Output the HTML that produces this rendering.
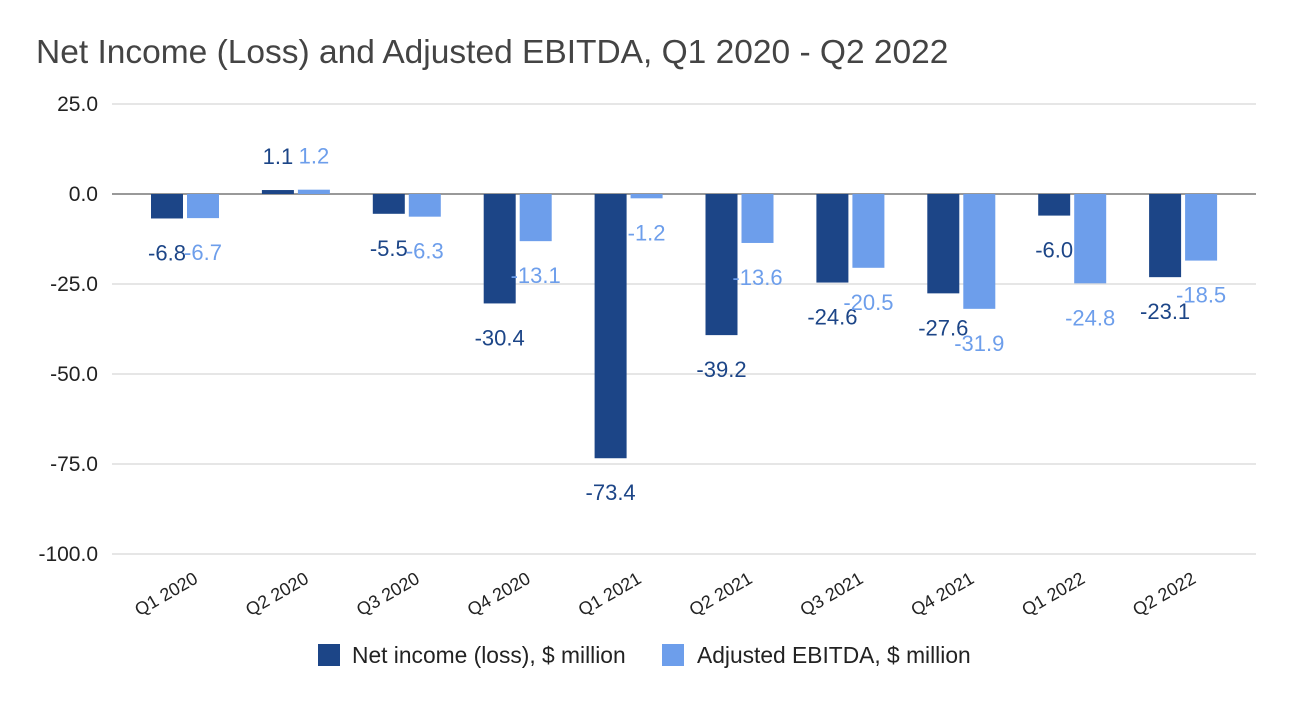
<!DOCTYPE html>
<html><head><meta charset="utf-8"><style>
body{margin:0;background:#fff;font-family:"Liberation Sans",Arial,sans-serif;}
svg text{font-family:"Liberation Sans",Arial,sans-serif;}
</style></head><body>
<svg id="chart" width="1292" height="702">
<text x="36" y="63" font-size="33.5" fill="#444">Net Income (Loss) and Adjusted EBITDA, Q1 2020 - Q2 2022</text>
<g id="grid"></g><g id="bars"></g><g id="labels"></g><g id="xlabels"></g>
<g>
<rect x="318" y="644" width="22" height="22" fill="#1c4587"/>
<text x="352" y="663" font-size="22.8" fill="#222">Net income (loss), $ million</text>
<rect x="662" y="644" width="22" height="22" fill="#6d9eeb"/>
<text x="697" y="663" font-size="22.8" fill="#222">Adjusted EBITDA, $ million</text>
</g>
</svg>
<script>
const categories=["Q1 2020","Q2 2020","Q3 2020","Q4 2020","Q1 2021","Q2 2021","Q3 2021","Q4 2021","Q1 2022","Q2 2022"];
const netIncome=[-6.8,1.1,-5.5,-30.4,-73.4,-39.2,-24.6,-27.6,-6.0,-23.1];
const ebitda=[-6.7,1.2,-6.3,-13.1,-1.2,-13.6,-20.5,-31.9,-24.8,-18.5];
const yTicks=[25,0,-25,-50,-75,-100];
const NS="http://www.w3.org/2000/svg";
function y(v){return 194-v*3.6;}
function xc(i){return 185+i*110.9;}
function mk(tag,attrs,parent){const e=document.createElementNS(NS,tag);for(const k in attrs)e.setAttribute(k,attrs[k]);document.getElementById(parent).appendChild(e);return e;}
yTicks.forEach(t=>{
  const l=mk('line',{x1:112,x2:1256,y1:y(t),y2:y(t),stroke:t===0?'#333':'#ccc','stroke-width':1},'grid');
  
  
  const tx=mk('text',{x:98,y:y(t)+7,'text-anchor':'end','font-size':21,fill:'#222'},'grid');
  tx.textContent=t.toFixed(1);
  
  
});
function series(vals,off,color,lc,name){
  vals.forEach((v,i)=>{
    const cx=xc(i)+off;
    const top=Math.min(y(v),y(0)),h=Math.abs(y(v)-y(0));
    const r=mk('rect',{x:cx-16,y:top,width:32,height:Math.max(h,1),fill:color},'bars');
    
    
    const ly=v<0?y(v)+42:y(v)-26;
    const t=mk('text',{x:cx,y:ly,'text-anchor':'middle','font-size':22,fill:lc},'labels');
    t.textContent=v.toFixed(1);
    
    
  });
}
series(netIncome,-18,'#1c4587','#1c4587','net-income');
series(ebitda,18,'#6d9eeb','#6d9eeb','ebitda');
categories.forEach((c,i)=>{
  const t=mk('text',{x:xc(i)+14,y:582,'text-anchor':'end','font-size':18,fill:'#222',transform:`rotate(-30 ${xc(i)+14} 582)`},'xlabels');
  t.textContent=c;
  
  
});
</script>
</body></html>
